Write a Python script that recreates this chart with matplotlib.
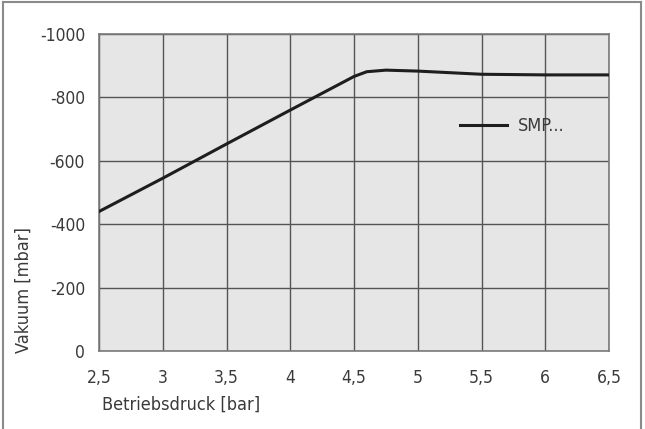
import matplotlib
matplotlib.use('Agg')
import matplotlib.pyplot as plt
from matplotlib.lines import Line2D

# Betriebsdruck [bar] vs. Vakuum [mbar]
druck = [2.5, 3.0, 3.5, 4.0, 4.5, 4.6, 4.75, 5.0, 5.5, 6.0, 6.5]
vakuum = [-440, -545, -653, -760, -866, -881, -886, -883, -873, -871, -871]

x_ticks = [2.5, 3, 3.5, 4, 4.5, 5, 5.5, 6, 6.5]
x_labels = ['2,5', '3', '3,5', '4', '4,5', '5', '5,5', '6', '6,5']
y_ticks = [0, -200, -400, -600, -800, -1000]
y_labels = ['0', '-200', '-400', '-600', '-800', '-1000']

plt.rcParams['font.family'] = ['DejaVu Sans']
plt.rcParams['font.stretch'] = 'condensed'
txt = '#3a3a3a'

fig = plt.figure(figsize=(6.45, 4.29), dpi=100)
ax = fig.add_axes([99/645, 1-351/429, 510/645, 317/429])
ax.set_facecolor('#e6e6e6')

ax.plot(druck, vakuum, color='#1e1e1e', lw=2.2, label='SMP...', zorder=3)

ax.set_xlim(2.5, 6.5)
ax.set_ylim(0, -1000)
ax.set_xticks(x_ticks)
ax.set_xticklabels(x_labels)
ax.set_yticks(y_ticks)
ax.set_yticklabels(y_labels)
ax.tick_params(length=0, labelsize=12.5, colors=txt)
ax.tick_params(axis='x', pad=13)
ax.tick_params(axis='y', pad=10)
ax.grid(color='#555555', lw=1.0)
ax.set_axisbelow(True)
for s in ax.spines.values():
	s.set_color('#7a7a7a')
	s.set_linewidth(1.2)

ax.legend(loc='center left', bbox_to_anchor=((460-99)/510, (351-126)/317),
	frameon=False, fontsize=13, handlelength=2.6, handletextpad=0.6,
	borderpad=0, borderaxespad=0, labelcolor=txt)

fig.text(102/645, 1-405/429, 'Betriebsdruck [bar]', fontsize=13, color=txt,
	ha='left', va='center')
fig.text(24/645, 1-290/429, 'Vakuum [mbar]', fontsize=13, color=txt,
	rotation=90, ha='center', va='center')

# Rahmen um die Grafik (unten offen)
kw = dict(color='#8a8a8a', lw=1.5, transform=fig.transFigure)
fig.add_artist(Line2D([3/645, 3/645], [0, 1-2/429], **kw))
fig.add_artist(Line2D([3/645, 641/645], [1-2/429, 1-2/429], **kw))
fig.add_artist(Line2D([641/645, 641/645], [0, 1-2/429], **kw))

plt.savefig('out.png', format='png', dpi=100)
plt.close()
